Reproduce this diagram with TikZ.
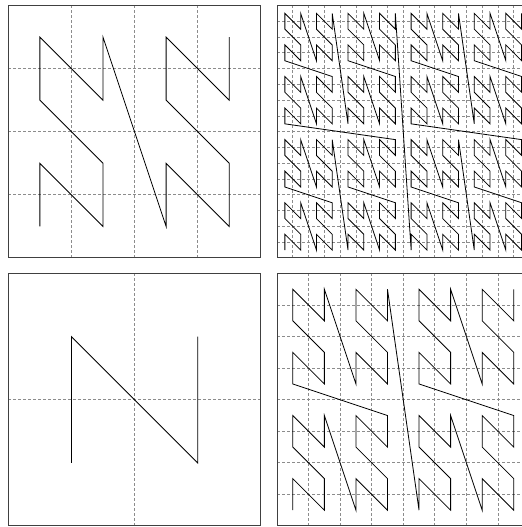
\documentclass[tikz,border=0pt]{standalone}
\usepackage{tikz}

\begin{document}
\begin{tikzpicture}[
    x=1bp, y=1bp,
    declare function={zbit(\a,\b)=mod(floor((\a+0.5)/\b),2);},
    frame/.style={draw=black!75, line width=1bp},
    gridline/.style={draw=black!45, line width=0.8bp, dash pattern=on 3bp off 2bp},
    curve/.style={draw=black, line width=0.8bp},
]
\clip (0,0) rectangle (522,527);

% one panel per order: left, bottom, order
\foreach \ox/\oy/\n in {8.3/269/2, 277/269/4, 8.3/1/1, 277/1/3} {
    \pgfmathsetmacro\cell{252.5/2^\n}
    \pgfmathtruncatemacro\cells{2^\n-1}
    \pgfmathtruncatemacro\lastidx{4^\n-1}

    % dashed cell grid
    \foreach \i in {1,...,\cells} {
        \draw[gridline] (\ox+\i*\cell,\oy) -- ++(0,252.5);
        \draw[gridline] (\ox,\oy+\i*\cell) -- ++(252.5,0);
    }

    % N-order curve through the cell centres
    \draw[curve] (\ox+0.5*\cell,\oy+0.5*\cell)
        \foreach[evaluate=\k as \xx using {zbit(\k,2)+2*zbit(\k,8)+4*zbit(\k,32)+8*zbit(\k,128)},
                 evaluate=\k as \yy using {zbit(\k,1)+2*zbit(\k,4)+4*zbit(\k,16)+8*zbit(\k,64)}]
            \k in {1,...,\lastidx} { -- ({\ox+(\xx+0.5)*\cell},{\oy+(\yy+0.5)*\cell}) };

    \draw[frame] (\ox,\oy) rectangle ++(252.5,252.5);
}

\end{tikzpicture}
\end{document}
